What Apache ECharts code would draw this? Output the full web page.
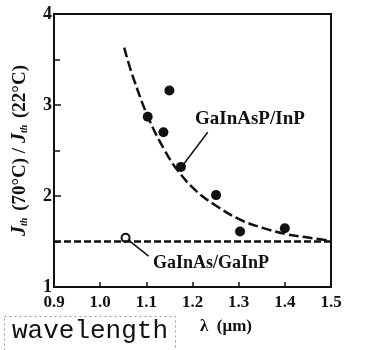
<!DOCTYPE html>
<html>
<head>
<meta charset="utf-8">
<script src="https://cdn.jsdelivr.net/npm/echarts@6/dist/echarts.min.js"></script>
<style>
  html, body { margin: 0; padding: 0; background: #fff; }
  #chart { width: 373px; height: 350px; }
</style>
</head>
<body>
<div id="chart"></div>
<script>
// values
const xTicks = [0.9, 1.0, 1.1, 1.2, 1.3, 1.4, 1.5]
const yTicks = [1, 2, 3, 4]

// GaInAsP/InP measured points (filled)
const dotX = [1.103, 1.137, 1.150, 1.175, 1.251, 1.303, 1.400]
const dotY = [2.87, 2.70, 3.16, 2.32, 2.01, 1.61, 1.645]

// dashed fit curve through the GaInAsP/InP points
const curveX = [1.052, 1.071, 1.106, 1.140, 1.168, 1.209, 1.252, 1.303, 1.352, 1.404, 1.454, 1.497]
const curveY = [3.63, 3.31, 2.84, 2.50, 2.28, 2.05, 1.89, 1.74, 1.65, 1.58, 1.54, 1.51]

// GaInAs/GaInP point (open) and its flat dashed line
const openX = [1.055]
const openY = [1.54]
const flatX = [0.9, 1.5]
const flatY = [1.5, 1.5]

// leader lines from the labels
const leader1X = [1.233, 1.175]
const leader1Y = [2.70, 2.31]
const leader2X = [1.06, 1.105]
const leader2Y = [1.52, 1.34]

const ink = '#111'
const serif = '"Liberation Serif", "DejaVu Serif", serif'

const zip = (xs, ys) => xs.map((x, i) => [x, ys[i]])

const chart = echarts.init(document.getElementById('chart'))
chart.setOption({
  backgroundColor: '#fff',
  animation: false,
  grid: {
    left: 54, top: 14, right: 42, bottom: 63,
    outerBoundsMode: 'none', containLabel: false,
    show: true, borderColor: ink, borderWidth: 2
  },
  xAxis: {
    type: 'value',
    min: xTicks[0],
    max: xTicks[xTicks.length - 1],
    interval: 0.1,
    axisLine: { lineStyle: { color: ink, width: 2 } },
    axisTick: { inside: true, length: 5, lineStyle: { color: ink, width: 1.5 } },
    splitLine: { show: false },
    axisLabel: {
      color: ink, fontFamily: serif, fontWeight: 'bold', fontSize: 17, margin: 7,
      formatter: v => v.toFixed(1)
    }
  },
  yAxis: {
    type: 'value',
    min: yTicks[0],
    max: yTicks[yTicks.length - 1],
    interval: 1,
    axisLine: { show: true, lineStyle: { color: ink, width: 2 } },
    axisTick: { show: true, inside: true, length: 7, lineStyle: { color: ink, width: 1.5 } },
    minorTick: { show: true, splitNumber: 2, length: 6, lineStyle: { color: ink, width: 1.5 } },
    splitLine: { show: false },
    axisLabel: { color: ink, fontFamily: serif, fontWeight: 'bold', fontSize: 18, margin: 2 },
    name: '{j|J}{s|th}{n| (70°C) / }{j|J}{s|th}{n| (22°C)}',
    nameLocation: 'middle',
    nameRotate: 90,
    nameGap: 24,
    nameTextStyle: {
      rich: {
        j: { fontFamily: serif, fontWeight: 'bold', fontStyle: 'italic', fontSize: 20, color: ink },
        s: { fontFamily: serif, fontWeight: 'bold', fontStyle: 'italic', fontSize: 10, color: ink, padding: [9, 2, 0, 0] },
        n: { fontFamily: serif, fontWeight: 'bold', fontSize: 19, color: ink }
      }
    }
  },
  series: [
    {
      type: 'line', data: zip(flatX, flatY), symbol: 'none',
      lineStyle: { color: ink, width: 2.5, type: [7, 3] }
    },
    {
      type: 'line', data: zip(curveX, curveY), symbol: 'none', smooth: 0.4,
      lineStyle: { color: ink, width: 2.5, type: [10, 4] }
    },
    {
      type: 'line', data: zip(leader1X, leader1Y), symbol: 'none',
      lineStyle: { color: ink, width: 1.5 }
    },
    {
      type: 'line', data: zip(leader2X, leader2Y), symbol: 'none',
      lineStyle: { color: ink, width: 1.5 }
    },
    {
      type: 'scatter', data: zip(dotX, dotY), symbol: 'circle', symbolSize: 10,
      itemStyle: { color: ink, opacity: 1 }
    },
    {
      type: 'scatter', data: zip(openX, openY), symbol: 'circle', symbolSize: 8,
      itemStyle: { color: '#fff', borderColor: ink, borderWidth: 2, opacity: 1 }
    }
  ],
  graphic: [
    {
      type: 'text', left: 195, top: 110,
      style: { text: 'GaInAsP/InP', font: 'bold 19px ' + serif, fill: ink }
    },
    {
      type: 'text', left: 153, top: 254,
      style: { text: 'GaInAs/GaInP', font: 'bold 18px ' + serif, fill: ink }
    },
    {
      type: 'text', left: 200, top: 318,
      style: { text: 'λ  (μm)', font: 'bold 17px ' + serif, fill: ink }
    },
    {
      type: 'rect', left: 2, top: 314, shape: { width: 171, height: 36 },
      style: { fill: 'none', stroke: '#999', lineWidth: 1, lineDash: [2, 3] }
    },
    {
      type: 'text', left: 12, top: 318,
      style: { text: 'wavelength', font: '26px "Liberation Mono", "DejaVu Sans Mono", monospace', fill: ink }
    }
  ]
})
</script>
</body>
</html>
